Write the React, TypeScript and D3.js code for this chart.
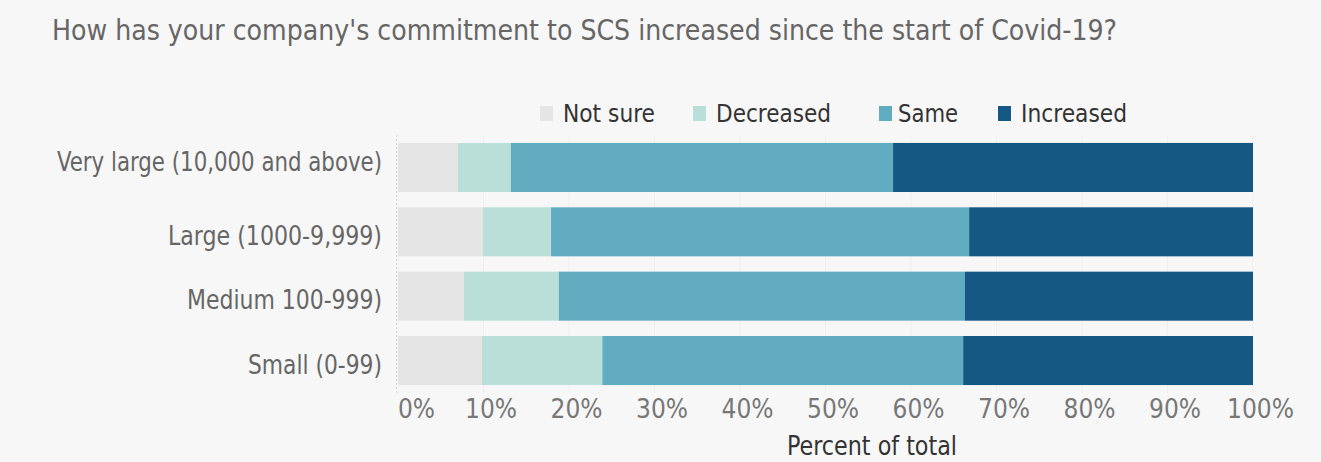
import React from "react";
import * as d3 from "d3";

const categories = [
  "Very large (10,000 and above)",
  "Large (1000-9,999)",
  "Medium 100-999)",
  "Small (0-99)",
];
const seriesNames = ["Not sure", "Decreased", "Same", "Increased"];
const notSure = [7.0, 9.9, 7.7, 9.8];
const decreased = [6.2, 8.0, 11.1, 14.1];
const same = [44.7, 48.9, 47.5, 42.2];
const increased = [42.1, 33.2, 33.7, 33.9];
const xTicks = [0, 10, 20, 30, 40, 50, 60, 70, 80, 90, 100];
const colors = ["#e5e5e5", "#badfd9", "#62acc1", "#155884"];

const W = 1321;
const H = 462;
const FONT = "'DejaVu Sans Condensed', 'Liberation Sans Narrow', 'Roboto', sans-serif";

// approximate rendered widths of the reference's condensed font
const catWidths = [325, 214, 195, 134];
const legendWidths = [92, 115, 60, 106];

export default function App() {
  const x = d3.scaleLinear().domain([0, 100]).range([398, 1253]);
  const y = d3
    .scaleBand<string>()
    .domain(categories)
    .range([135.3, 392.7])
    .paddingInner(0.238)
    .paddingOuter(0.119);

  const rows = categories.map((c, i) => ({
    cat: c,
    "Not sure": notSure[i],
    Decreased: decreased[i],
    Same: same[i],
    Increased: increased[i],
  }));
  const stack = d3.stack<any>().keys(seriesNames)(rows);

  const legendSwatchX = [540, 693, 879, 998];
  const legendTextX = [563, 716, 898, 1021];

  return (
    <svg
      width={W}
      height={H}
      style={{ position: "absolute", left: 0, top: 0, background: "#f7f7f7" }}
      fontFamily={FONT}
    >
      <rect x={0} y={0} width={W} height={H} fill="#f7f7f7" />
      <text
        x={52}
        y={40}
        fontSize={29}
        fill="#666"
        textLength={1065}
        lengthAdjust="spacingAndGlyphs"
      >
        How has your company's commitment to SCS increased since the start of Covid-19?
      </text>

      {/* legend */}
      {seriesNames.map((s, i) => (
        <g key={s}>
          <rect x={legendSwatchX[i]} y={106} width={13} height={15} fill={colors[i]} />
          <text
            x={legendTextX[i]}
            y={122}
            fontSize={25}
            fill="#333"
            textLength={legendWidths[i]}
            lengthAdjust="spacingAndGlyphs"
          >
            {s}
          </text>
        </g>
      ))}

      {/* gridlines */}
      {xTicks.map((t) => (
        <line
          key={t}
          x1={x(t)}
          x2={x(t)}
          y1={135}
          y2={393}
          stroke="#efefef"
          strokeWidth={1}
        />
      ))}

      {/* bars */}
      {stack.map((layer, si) => (
        <g key={layer.key} fill={colors[si]}>
          {layer.map((d, i) => (
            <rect
              key={i}
              x={x(d[0])}
              y={y(categories[i])}
              width={x(d[1]) - x(d[0])}
              height={y.bandwidth()}
            />
          ))}
        </g>
      ))}

      {/* y axis dotted line */}
      <line x1={396.5} x2={396.5} y1={135} y2={393} stroke="#d9d9d9" strokeDasharray="2,2" />

      {/* category labels */}
      {categories.map((c, i) => (
        <text
          key={c}
          x={382}
          y={(y(c) as number) + y.bandwidth() / 2 + 13 + (i === 0 ? -9 : 0)}
          fontSize={26}
          fill="#666"
          textAnchor="end"
          textLength={catWidths[i]}
          lengthAdjust="spacingAndGlyphs"
        >
          {c}
        </text>
      ))}

      {/* x tick labels */}
      {xTicks.map((t) => (
        <text
          key={t}
          x={t === 0 ? x(t) : x(t) + 7.5}
          y={418}
          fontSize={26}
          fill="#777"
          textAnchor={t === 0 ? "start" : "middle"}
          textLength={t === 0 ? 37 : t === 100 ? 67 : 52}
          lengthAdjust="spacingAndGlyphs"
        >
          {t}%
        </text>
      ))}

      <text
        x={872}
        y={455}
        fontSize={26}
        fill="#333"
        textAnchor="middle"
        textLength={170}
        lengthAdjust="spacingAndGlyphs"
      >
        Percent of total
      </text>
    </svg>
  );
}
